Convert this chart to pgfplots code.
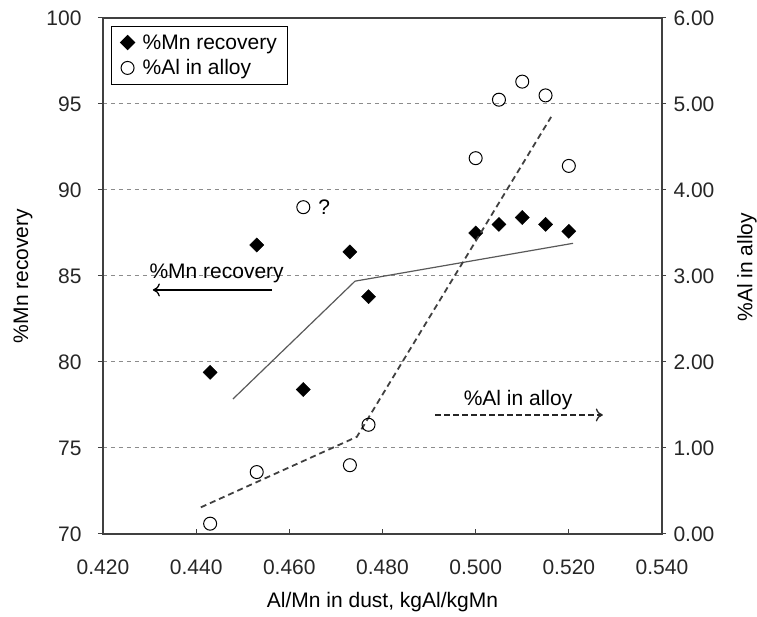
\documentclass[border=0pt]{standalone}
\usepackage{fontspec}
\setmainfont{Liberation Sans}
\usepackage{pgfplots}
\pgfplotsset{compat=1.18}
\usetikzlibrary{arrows.meta}
\definecolor{axisgray}{HTML}{404040}
\definecolor{gridgray}{HTML}{8C8C8C}

\begin{document}
\begin{tikzpicture}[font=\fontsize{21}{25}\selectfont]
\pgfplotsset{
  base/.style={
    width=559pt, height=516pt, scale only axis,
    xmin=0.42, xmax=0.54,
    axis line style={draw=axisgray, line width=1.2pt},
    /pgf/number format/assume math mode=true,
    tick label style={font=\fontsize{21}{25}\selectfont, text=black!85},
    label style={font=\fontsize{21}{25}\selectfont},
  }
}

% ---- left axis: %Mn recovery ----
\begin{axis}[base,
  ymin=70, ymax=100,
  ytick={70,75,80,85,90,95,100},
  xtick={0.42,0.44,0.46,0.48,0.50,0.52,0.54},
  xtick pos=left, ytick pos=left,
  tick align=inside, major tick length=5pt,
  tick style={axisgray, line width=1pt},
  y tick style={xshift=-5pt},
  xticklabel style={yshift=-22pt, /pgf/number format/.cd, fixed, fixed zerofill, precision=3},
  yticklabel style={xshift=-18pt},
  ymajorgrids, grid style={gridgray, line width=1pt, dash pattern=on 4pt off 4pt},
  xlabel={Al/Mn in dust, kgAl/kgMn},
  ylabel={\%Mn recovery},
  every axis x label/.style={at={(axis description cs:0.5,-0.1318)}, anchor=center},
  every axis y label/.style={at={(axis description cs:-0.1431,0.5)}, anchor=center, rotate=90},
]
\coordinate (SW) at (rel axis cs:0,0);
\coordinate (NE) at (rel axis cs:1,1);

% trend line for Mn recovery
\addplot[draw=black!65, line width=1.2pt, forget plot] coordinates {
  (0.4479,77.85) (0.4741,84.7) (0.5209,86.9)
};

\addplot[only marks, mark=square*, mark size=5pt,
  mark options={rotate=45, fill=black, draw=black}] coordinates {
  (0.443,79.4) (0.453,86.8) (0.463,78.4) (0.473,86.4) (0.477,83.8)
  (0.500,87.5) (0.505,88.0) (0.510,88.4) (0.515,88.0) (0.520,87.6)
};

% annotations
\node[anchor=center] at (axis cs:0.4444,85.17) {\%Mn recovery};
\draw[-{To[length=7pt,width=13pt]}, line width=1.3pt, black] (axis cs:0.4563,84.19) -- (axis cs:0.4307,84.19);
\node[anchor=center] at (axis cs:0.5091,77.79) {\%Al in alloy};
\draw[-{To[length=7pt,width=13pt]}, line width=1.3pt, black!85, dash pattern=on 6pt off 3pt] (axis cs:0.4913,76.92) -- (axis cs:0.5273,76.92);
\node[anchor=center] at (axis cs:0.4675,89.0) {?};
\end{axis}

% ---- right axis: %Al in alloy ----
\begin{axis}[base,
  ymin=0, ymax=6,
  ytick={0,1,2,3,4,5,6},
  axis x line=none,
  axis y line*=right,
  tick align=outside, major tick length=4pt,
  tick style={axisgray, line width=1pt},
  yticklabel style={xshift=4pt, /pgf/number format/.cd, fixed, fixed zerofill, precision=2},
  ylabel={\%Al in alloy},
  every axis y label/.style={at={(axis description cs:1.152,0.517)}, anchor=center, rotate=90},
  legend style={at={(0.0143,0.9845)}, anchor=north west, draw=black, line width=1pt,
    font=\fontsize{21}{25}\selectfont, inner xsep=9pt, inner ysep=6pt, row sep=5pt,
    /tikz/every odd column/.append style={column sep=6pt}},
  legend cell align=left,
]
% trend line for Al in alloy
\addplot[draw=axisgray, line width=1.8pt, dash pattern=on 6pt off 4pt, forget plot] coordinates {
  (0.4410,0.31) (0.4745,1.13) (0.5162,4.85)
};

\addlegendimage{only marks, mark=square*, mark size=5pt, mark options={rotate=45, fill=black, draw=black}}
\addlegendentry{\%Mn recovery}

\addplot[only marks, mark=o, mark size=6.5pt,
  mark options={fill=white, draw=black, line width=1pt}] coordinates {
  (0.443,0.12) (0.453,0.72) (0.463,3.80) (0.473,0.80) (0.477,1.27)
  (0.500,4.37) (0.505,5.05) (0.510,5.26) (0.515,5.10) (0.520,4.28)
};
\addlegendentry{\%Al in alloy}
\end{axis}

\pgfresetboundingbox
\useasboundingbox ([xshift=-103pt,yshift=-83pt]SW) rectangle ([xshift=95pt,yshift=18pt]NE);
\end{tikzpicture}
\end{document}
